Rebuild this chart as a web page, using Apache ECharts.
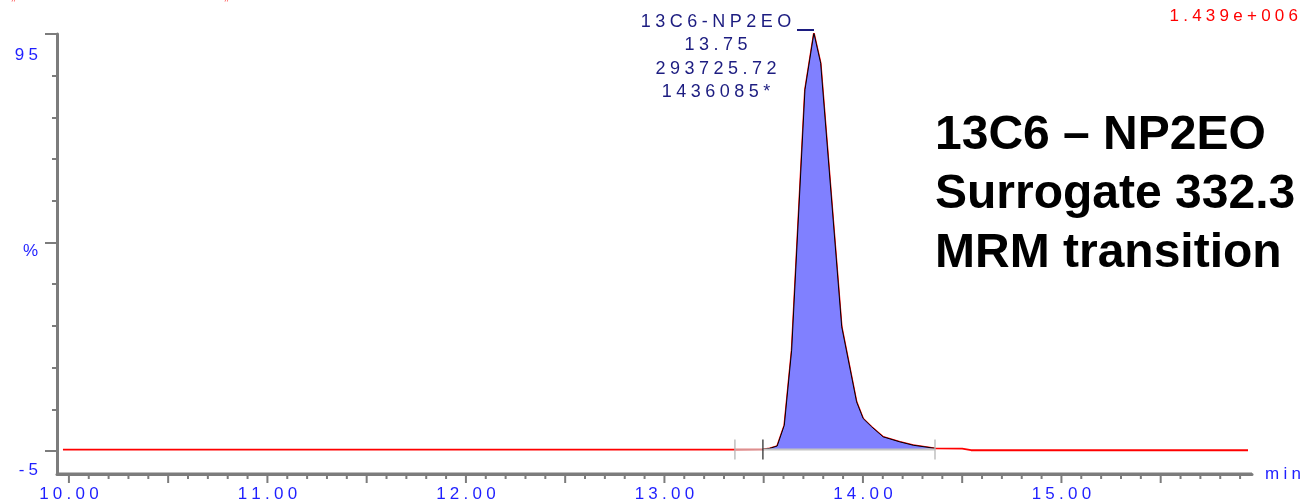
<!DOCTYPE html>
<html>
<head>
<meta charset="utf-8">
<script src="https://cdn.jsdelivr.net/npm/echarts@6/dist/echarts.min.js"></script>
<style>
html,body{margin:0;padding:0;background:#fff;}
#chart{width:1307px;height:504px;}
</style>
</head>
<body>
<div id="chart"></div>
<script>
// ---- data ----
var traceTimes = [9.97, 13.35, 13.496, 13.531, 13.568, 13.604, 13.641, 13.708, 13.753, 13.787, 13.893, 13.968, 14.001, 14.044, 14.102, 14.186, 14.253, 14.363, 14.50, 14.545, 15.94];
var traceIntensity = [0.35, 0.35, 0.4, 0.65, 1.2, 6.2, 24.2, 86.6, 100.2, 93.0, 29.8, 11.8, 7.8, 5.8, 3.4, 2.2, 1.4, 0.65, 0.6, 0.2, 0.2];
var integrationMarkers = [13.355, 13.496, 14.363]; // marker start, integration start, integration end
var baselineLevel = 0.35;
var xMajorTicks = [10, 10.5, 11, 11.5, 12, 12.5, 13, 13.5, 14, 14.5, 15, 15.5];
var xLabelValues = [10, 11, 12, 13, 14, 15];
var yMajorTicks = [0, 50, 100];
var yMinorTicks = [10, 20, 30, 40, 60, 70, 80, 90];
var yLabelValues = [95, 47.8, -4.6];
var yLabelTexts = ['95', '%', '-5'];
var peakLabelLines = ['13C6-NP2EO', '13.75', '293725.72', '1436085*'];
var scaleLabel = '1.439e+006';
var titleLines = ['13C6 \u2013 NP2EO', 'Surrogate 332.3', 'MRM transition'];
var xUnit = 'min';

// ---- helpers ----
var SP = '\u2005';
function spaced(s){ return s.split('').join(SP); }
var X_MIN = 9.94, X_MAX = 15.96, Y_MIN = -5.5, Y_MAX = 100;
var xMinorTicks = [];
for (var k = 100; k <= 159; k++) { if (k % 5 !== 0) xMinorTicks.push(k / 10); }
var xTickData = xMajorTicks.map(function(v){ return [v, 1]; }).concat(xMinorTicks.map(function(v){ return [v, 0]; }));

var traceData = traceTimes.map(function(t,i){ return [t, traceIntensity[i]]; });
var integStart = integrationMarkers[1], integEnd = integrationMarkers[2];
var peakData = traceData.filter(function(p){ return p[0] >= integStart - 1e-9 && p[0] <= integEnd + 1e-9; });

var FONT = "'Liberation Sans', Arial, sans-serif";
var BLUE = '#1f1fff';
var NAVY = '#1c1c80';
var AXIS = '#7c7c7c';

var chart = echarts.init(document.getElementById('chart'), null, {renderer:'canvas'});
var option = {
  animation: false,
  backgroundColor: '#ffffff',
  grid: {left: 57, right: 55, top: 34, bottom: 30, containLabel: false},
  xAxis: {
    type: 'value', min: X_MIN, max: X_MAX, position: 'bottom',
    name: spaced(xUnit), nameLocation: 'end', nameGap: 13,
    nameTextStyle: {color: BLUE, fontSize: 17, fontFamily: FONT, verticalAlign: 'middle'},
    axisLine: {show: true, onZero: false, lineStyle: {color: AXIS, width: 3}},
    splitLine: {show: false},
    axisTick: {show: false},
    axisLabel: {show: true, customValues: xLabelValues, margin: 12, color: BLUE, fontSize: 17, fontFamily: FONT,
      formatter: function(v){ return spaced(v.toFixed(2)); }}
  },
  yAxis: [{
    type: 'value', min: Y_MIN, max: Y_MAX, position: 'left',
    axisLine: {show: true, onZero: false, lineStyle: {color: AXIS, width: 3}},
    splitLine: {show: false},
    axisTick: {show: true, customValues: yMajorTicks, length: 12, lineStyle: {color: AXIS, width: 2}},
    axisLabel: {show: true, customValues: yLabelValues, margin: 19, color: BLUE, fontSize: 17, fontFamily: FONT,
      formatter: function(v){ var i = yLabelValues.indexOf(v); return i >= 0 ? spaced(yLabelTexts[i]) : ''; }}
  }, {
    type: 'value', min: Y_MIN, max: Y_MAX, position: 'left',
    axisLine: {show: false, onZero: false}, splitLine: {show: false},
    axisTick: {show: true, customValues: yMinorTicks, length: 5, lineStyle: {color: AXIS, width: 2}},
    axisLabel: {show: false}
  }],
  series: [
    { // x axis line drawn along the bottom of the y range
      type: 'line', data: [[X_MIN, Y_MIN], [X_MAX, Y_MIN]], symbol: 'none', z: 1, clip: false, silent: true,
      lineStyle: {color: AXIS, width: 3}
    },
    { // x-axis ticks (major and minor), positioned through the x scale
      type: 'custom', z: 1, silent: true, clip: false,
      data: xTickData,
      renderItem: function(params, api){
        var p = api.coord([api.value(0), Y_MIN]);
        var len = api.value(1) ? 8 : 4;
        return {type: 'line', shape: {x1: p[0], y1: p[1] + 1, x2: p[0], y2: p[1] + 1 + len},
          style: {stroke: AXIS, lineWidth: 2}};
      }
    },
    { // full red trace
      type: 'line', data: traceData, symbol: 'none', z: 2,
      lineStyle: {color: '#ff0000', width: 1.8}
    },
    { // pale baseline segment before integration start
      type: 'line', data: [[integrationMarkers[0], baselineLevel], [integStart, baselineLevel]], symbol: 'none', z: 3,
      lineStyle: {color: 'rgba(205,205,205,0.7)', width: 2}
    },
    { // integrated peak fill
      type: 'line', data: peakData, symbol: 'none', z: 4,
      lineStyle: {color: '#000000', width: 1},
      areaStyle: {color: '#8080ff', opacity: 1, origin: baselineLevel}
    },
    { // integration baseline
      type: 'line', data: [[integStart, baselineLevel], [integEnd, baselineLevel]], symbol: 'none', z: 5,
      lineStyle: {color: '#c4c4c4', width: 2}
    },
    { // integration markers
      type: 'scatter', z: 6, symbol: 'rect', symbolSize: [1.6, 20],
      data: integrationMarkers.map(function(t, i){
        return {value: [t, baselineLevel], itemStyle: {color: i === 1 ? '#303030' : '#b4b4b4'}};
      })
    }
  ],
  graphic: [
    {type: 'text', x: 716, y: 10, style: {
      text: peakLabelLines.map(spaced).join('\n'), textAlign: 'center', fill: NAVY,
      font: '18px ' + FONT, lineHeight: 23.5}},
    {type: 'line', shape: {x1: 797, y1: 30, x2: 814, y2: 30}, style: {stroke: NAVY, lineWidth: 2}},
    {type: 'text', x: 1298, y: 8, style: {
      text: spaced(scaleLabel), textAlign: 'right', fill: '#ff0000', font: '17px ' + FONT}},
    {type: 'text', x: 935, y: 106, style: {
      text: titleLines.join('\n'), fill: '#000000', font: 'bold 48px ' + FONT, lineHeight: 59}},
    {type: 'text', x: 11, y: -3, style: {text: '\u201D', fill: '#ff5050', font: '14px ' + FONT}},
    {type: 'text', x: 224, y: -3, style: {text: '\u201D', fill: '#ff5050', font: '14px ' + FONT}}
  ]
};
chart.setOption(option);
</script>
</body>
</html>
